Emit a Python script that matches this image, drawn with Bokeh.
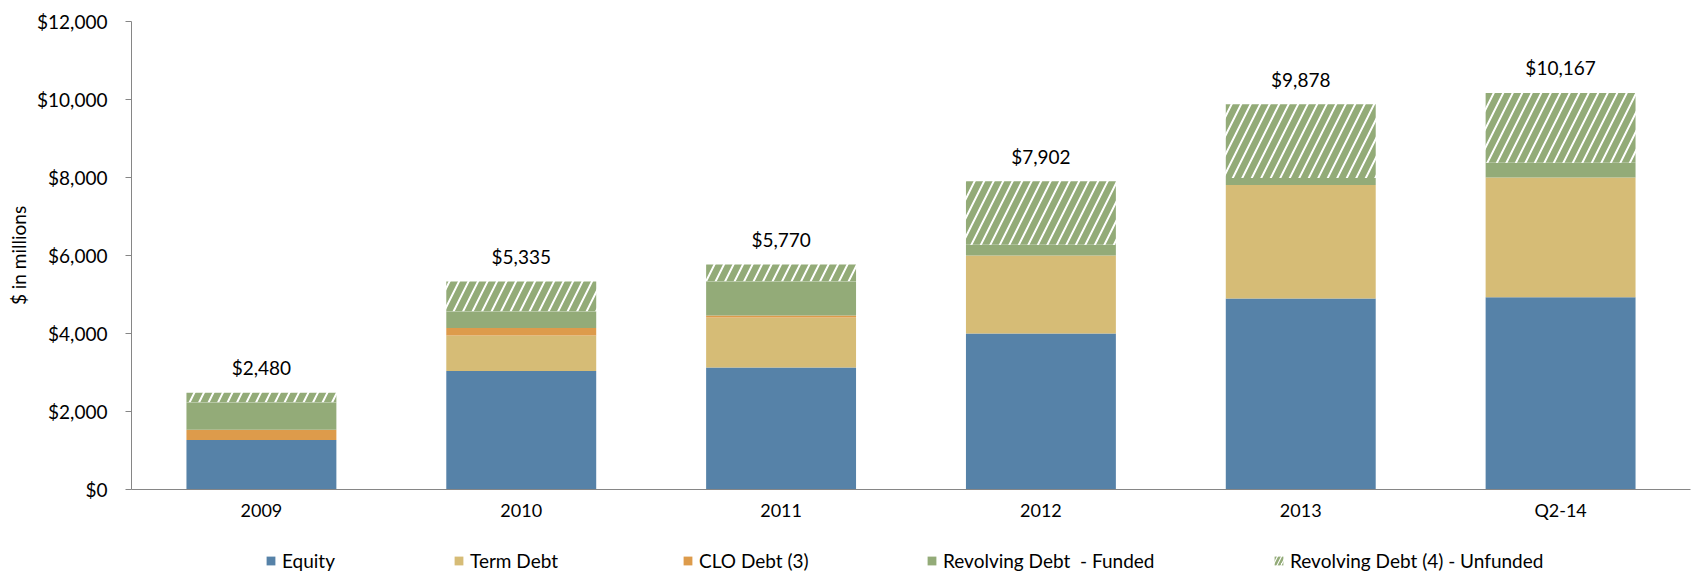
import numpy as np
from bokeh.plotting import figure
from bokeh.layouts import column
from bokeh.models import (FactorRange, Range1d, NumeralTickFormatter, FixedTicker,
                          Legend, LegendItem, ColumnDataSource)
from bokeh.core.properties import value
from bokeh.embed import file_html
from bokeh.resources import INLINE

# ---- data ----
categories = ["2009", "2010", "2011", "2012", "2013", "Q2-14"]
equity = [1270, 3040, 3130, 4000, 4900, 4930]
term_debt = [0, 910, 1280, 2000, 2910, 3070]
clo_debt = [260, 190, 50, 0, 0, 0]
revolving_funded = [710, 430, 880, 275, 180, 380]
revolving_unfunded = [240, 765, 430, 1627, 1888, 1787]
totals = [2480, 5335, 5770, 7902, 9878, 10167]
total_labels = ["$2,480", "$5,335", "$5,770", "$7,902", "$9,878", "$10,167"]
y_ticks = [0, 2000, 4000, 6000, 8000, 10000, 12000]

series_names = ["Equity", "Term Debt", "CLO Debt (3)", "Revolving Debt  - Funded",
                "Revolving Debt (4) - Unfunded"]
series_values = [equity, term_debt, clo_debt, revolving_funded, revolving_unfunded]
colors = ["#5682A8", "#D6BC76", "#DD9B4B", "#93AB78", "#FFFFFF"]
hatch_green = "#93AB78"

FONT = "Lato"

p = figure(width=1693, height=540, x_range=FactorRange(*categories, range_padding=0),
           y_range=Range1d(0, 12000), output_backend="svg", toolbar_location=None,
           min_border_left=131, min_border_right=3, min_border_top=21, min_border_bottom=51)
p.outline_line_color = None
p.xgrid.grid_line_color = None
p.ygrid.grid_line_color = None

data = {"cat": categories}
bottom = np.zeros(len(categories))
for i, vals in enumerate(series_values):
    v = np.array(vals, dtype=float)
    data[f"b{i}"] = bottom.copy()
    data[f"t{i}"] = bottom + v
    bottom = bottom + v
data["total"] = totals
data["label"] = total_labels
source = ColumnDataSource(data)


def bar_style(i):
    kw = dict(fill_color=colors[i], line_color=None)
    if i == 4:
        kw.update(hatch_pattern="/", hatch_color=hatch_green, hatch_scale=19,
                  hatch_weight=6.5)
    return kw


for i in range(len(series_names)):
    p.vbar(x="cat", bottom=f"b{i}", top=f"t{i}", width=0.577, source=source, **bar_style(i))

p.text(x="cat", y="total", text="label", source=source, text_align="center",
       text_baseline="middle", y_offset=-25, text_font=value(FONT),
       text_font_size="19px", text_color="#000000")

# axes
for ax in (p.xaxis[0], p.yaxis[0]):
    ax.axis_line_color = "#868686"
    ax.axis_line_width = 1
    ax.major_label_text_font = FONT
    ax.major_label_text_color = "#000000"
    ax.minor_tick_line_color = None

p.yaxis.ticker = FixedTicker(ticks=y_ticks)
p.yaxis.formatter = NumeralTickFormatter(format="$0,0")
p.yaxis.major_label_text_font_size = "19px"
p.yaxis.major_tick_line_color = "#868686"
p.yaxis.major_tick_out = 6
p.yaxis.major_tick_in = 0
p.yaxis.major_label_standoff = 18
p.yaxis.axis_label = "$ in millions"
p.yaxis.axis_label_text_font = FONT
p.yaxis.axis_label_text_font_size = "19px"
p.yaxis.axis_label_text_font_style = "normal"
p.yaxis.axis_label_text_color = "#000000"
p.yaxis.axis_label_standoff = 4

p.xaxis.major_label_text_font_size = "18px"
p.xaxis.major_tick_line_color = None
p.xaxis.major_tick_out = 0
p.xaxis.major_tick_in = 0
p.xaxis.major_label_standoff = 9

# legend strip below the chart (its frame is aligned with the chart's frame)
lg_fig = figure(width=1693, height=32, x_range=Range1d(0, 1), y_range=Range1d(0, 1),
                output_backend="svg", toolbar_location=None, min_border=0,
                x_axis_location=None, y_axis_location=None)
lg_fig.outline_line_color = None
lg_fig.xgrid.grid_line_color = None
lg_fig.ygrid.grid_line_color = None

legend_x = [134, 322, 551, 795, 1142]
for i, (name, lx) in enumerate(zip(series_names, legend_x)):
    # zero-size proxy glyph: only its style is shown, in the legend
    r = lg_fig.vbar(x=[0.5], bottom=[0], top=[0], width=0, **bar_style(i))
    if i == 4:
        r.glyph.hatch_scale = 8
        r.glyph.hatch_weight = 2.5
    lg = Legend(items=[LegendItem(label=name, renderers=[r])], location=(lx, 0),
                orientation="horizontal", padding=0, margin=0, spacing=0,
                glyph_width=11, glyph_height=11, label_standoff=6,
                label_text_font=FONT, label_text_font_size="19px",
                label_text_color="#000000", border_line_color=None,
                background_fill_alpha=0)
    lg_fig.add_layout(lg)

layout = column(p, lg_fig, spacing=0)
open("out.html", "w").write(file_html(layout, INLINE))
